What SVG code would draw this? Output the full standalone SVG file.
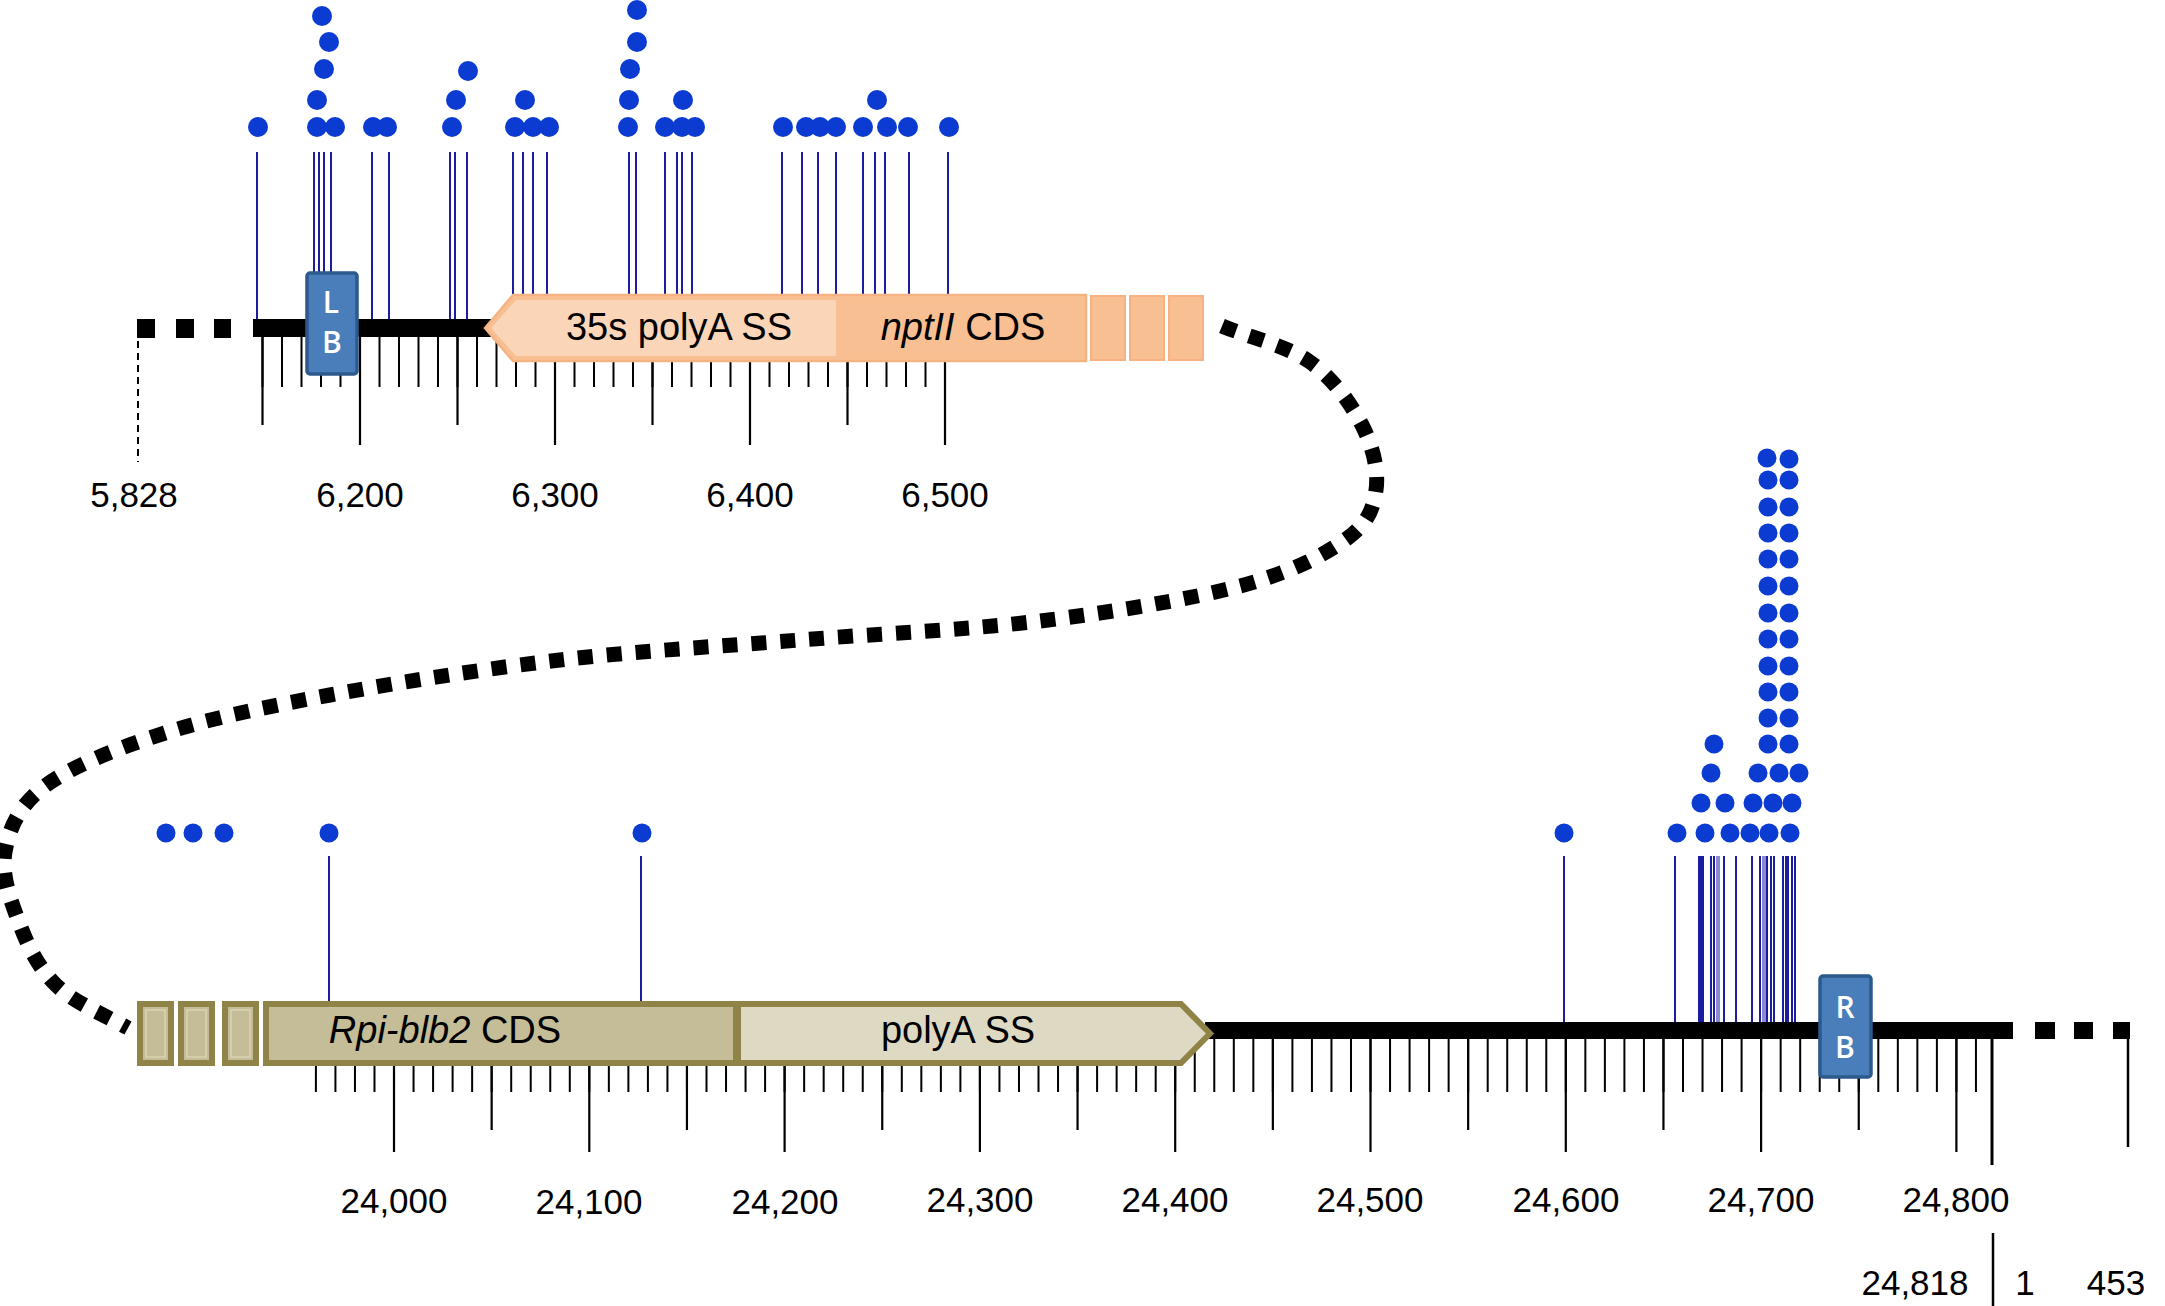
<svg xmlns="http://www.w3.org/2000/svg" width="2165" height="1306" viewBox="0 0 2165 1306">
<style>
.lbl{font-family:"Liberation Sans",Arial,sans-serif;font-size:35px;fill:#000;text-anchor:middle}
.feat{font-family:"Liberation Sans",Arial,sans-serif;font-size:38px;fill:#000;text-anchor:middle}
.bl{font-family:"Open Sans","Liberation Sans",sans-serif;font-size:30px;font-weight:600;fill:#fff;text-anchor:middle}
.tick{stroke:#000;stroke-width:2.2;fill:none}
.minor-top{stroke:#000;stroke-width:59;stroke-dasharray:2 17.5;fill:none}
.minor-bot{stroke:#000;stroke-width:62;stroke-dasharray:2 17.53;fill:none}
.stem{stroke:#1c1ca0;stroke-width:2;fill:none}
.stemL{stroke:#8c8ad2;stroke-width:2;fill:none}
.dot{fill:#0b3bd0}
.bb{fill:#4a7ebb;stroke:#2c5a8c;stroke-width:3.5}
.ol{fill:#c4bd97;stroke:#8f8348;stroke-width:6}
.olin{fill:none;stroke:#dad4b5;stroke-width:1.5}
.or{fill:#f8bf92;stroke:#f5b384;stroke-width:2}
</style>

<!-- connectors -->
<g id="connectors">
<path d="M1222,326 C1251,338 1286.7,345.5 1310,362 C1333.3,378.5 1351,403.7 1362,425 C1373,446.3 1378.8,470.8 1376,490 C1373.2,509.2 1367.7,524 1345,540 C1322.3,556 1290.8,572.5 1240,586 C1189.2,599.5 1113.3,612 1040,621 C966.7,630 880,633.5 800,640 C720,646.5 638.3,650.8 560,660 C481.7,669.2 395.8,682.8 330,695 C264.2,707.2 212.5,717.8 165,733 C117.5,748.2 71.7,766.2 45,786 C18.3,805.8 9.2,828.8 5,852 C0.8,875.2 11.5,902.8 20,925 C28.5,947.2 38.5,967.8 56,985 C73.5,1002.2 102,1013.7 128,1028" fill="none" stroke="#000" stroke-width="15" stroke-dasharray="15 14"/>
</g>

<!-- top track -->
<g id="top-backbone">
<rect x="137" y="319" width="18" height="19" fill="#000"/>
<rect x="176" y="319" width="18" height="19" fill="#000"/>
<rect x="214" y="319" width="17" height="19" fill="#000"/>
<line x1="138" y1="341" x2="138" y2="462" stroke="#000" stroke-width="2" stroke-dasharray="7 5"/>
</g>

<g id="top-ruler">
<path class="minor-top" d="M261.5,357.5 H947"/>
<path class="tick" d="M262.5,328V425 M457.5,328V425 M652.5,328V425 M847.5,328V425 M360,328V445 M555,328V445 M750,328V445 M945,328V445"/>
</g>

<g id="top-stems">
<path class="stem" d="M257,152V328 M314,152V273 M319,152V273 M324,152V273 M331,152V273 M372,152V328 M389,152V328 M450,152V328 M455,152V328 M467,152V328 M513,152V296 M523,152V296 M533,152V296 M547,152V296 M629,152V296 M636,152V296 M665,152V296 M677,152V296 M682,152V296 M692,152V296 M782,152V296 M802,152V296 M818,152V296 M836,152V296 M863,152V296 M875,152V296 M885,152V296 M909,152V296 M948,152V296"/>
</g>

<g id="top-line">
<rect x="253" y="319" width="240" height="18" fill="#000"/>
</g>

<g id="top-dots">
<circle class="dot" cx="258" cy="127" r="10"/>
<circle class="dot" cx="317" cy="127" r="10"/>
<circle class="dot" cx="335" cy="127" r="10"/>
<circle class="dot" cx="373" cy="127" r="10"/>
<circle class="dot" cx="387" cy="127" r="10"/>
<circle class="dot" cx="452" cy="127" r="10"/>
<circle class="dot" cx="515" cy="127" r="10"/>
<circle class="dot" cx="533" cy="127" r="10"/>
<circle class="dot" cx="549" cy="127" r="10"/>
<circle class="dot" cx="628" cy="127" r="10"/>
<circle class="dot" cx="665" cy="127" r="10"/>
<circle class="dot" cx="682" cy="127" r="10"/>
<circle class="dot" cx="695" cy="127" r="10"/>
<circle class="dot" cx="783" cy="127" r="10"/>
<circle class="dot" cx="806" cy="127" r="10"/>
<circle class="dot" cx="820" cy="127" r="10"/>
<circle class="dot" cx="836" cy="127" r="10"/>
<circle class="dot" cx="863" cy="127" r="10"/>
<circle class="dot" cx="887" cy="127" r="10"/>
<circle class="dot" cx="908" cy="127" r="10"/>
<circle class="dot" cx="949" cy="127" r="10"/>
<circle class="dot" cx="317" cy="100" r="10"/>
<circle class="dot" cx="456" cy="100" r="10"/>
<circle class="dot" cx="525" cy="100" r="10"/>
<circle class="dot" cx="629" cy="100" r="10"/>
<circle class="dot" cx="683" cy="100" r="10"/>
<circle class="dot" cx="877" cy="100" r="10"/>
<circle class="dot" cx="324" cy="69" r="10"/>
<circle class="dot" cx="468" cy="71" r="10"/>
<circle class="dot" cx="630" cy="69" r="10"/>
<circle class="dot" cx="329" cy="42" r="10"/>
<circle class="dot" cx="637" cy="42" r="10"/>
<circle class="dot" cx="322" cy="16" r="10"/>
<circle class="dot" cx="637" cy="10" r="10"/>
</g>

<g id="node-LB">
<rect class="bb" x="307" y="273" width="50" height="101" rx="3"/>
<text class="bl" x="331" y="313">L</text>
<text class="bl" x="332" y="353">B</text>
</g>

<g id="node-35s-polyA-nptII">
<polygon points="485,328 513,295 1086,295 1086,361 513,361" fill="#f8bf92" stroke="#f5b384" stroke-width="2.5"/>
<polygon points="491,328 516,300 836,300 836,356 516,356" fill="#fbd5b7"/>
<text class="feat" x="679" y="340">35s polyA SS</text>
<text class="feat" x="963" y="340"><tspan font-style="italic">nptII</tspan> CDS</text>
</g>

<g id="node-top-small-boxes">
<rect class="or" x="1091" y="296" width="34" height="64"/>
<rect class="or" x="1130" y="296" width="34" height="64"/>
<rect class="or" x="1169" y="296" width="34" height="64"/>
</g>

<g id="top-labels">
<text class="lbl" x="134" y="507">5,828</text>
<text class="lbl" x="360" y="507">6,200</text>
<text class="lbl" x="555" y="507">6,300</text>
<text class="lbl" x="750" y="507">6,400</text>
<text class="lbl" x="945" y="507">6,500</text>
</g>

<!-- bottom track -->
<g id="bottom-ruler">
<path class="minor-bot" d="M314.9,1061 H1977"/>
<path class="tick" d="M491.65,1030V1130 M686.95,1030V1130 M882.25,1030V1130 M1077.55,1030V1130 M1272.85,1030V1130 M1468.15,1030V1130 M1663.45,1030V1130 M1858.75,1030V1130 M394,1030V1152 M589.3,1030V1152 M784.6,1030V1152 M979.9,1030V1152 M1175.2,1030V1152 M1370.5,1030V1152 M1565.8,1030V1152 M1761.1,1030V1152 M1956.4,1030V1152"/>
<path class="tick" style="stroke-width:3" d="M1992,1030V1165"/>
<path class="tick" style="stroke-width:2.5" d="M2128,1030V1147"/>
</g>

<g id="bottom-stems">
<path class="stem" d="M329,856V1002 M641,856V1002 M1564,856V1030 M1675,856V1030 M1699,856V1030 M1701,856V1030 M1703,856V1030 M1711,856V1030 M1714,856V1030 M1724,856V1030 M1736,856V1030 M1752,856V1030 M1760,856V1030 M1767,856V1030 M1771,856V1030 M1774,856V1030 M1783,856V1030 M1786,856V1030 M1788,856V1030 M1792,856V1030 M1795,856V1030"/>
<path class="stemL" d="M1717,856V1030 M1719,856V1030 M1763,856V1030 M1765,856V1030"/>
</g>

<g id="bottom-line">
<rect x="1205" y="1022" width="808" height="17" fill="#000"/>
<rect x="2035" y="1022" width="20" height="17" fill="#000"/>
<rect x="2074" y="1022" width="19" height="17" fill="#000"/>
<rect x="2113" y="1022" width="17" height="17" fill="#000"/>
</g>

<g id="bottom-dots">
<circle class="dot" cx="166" cy="833" r="9.5"/>
<circle class="dot" cx="193" cy="833" r="9.5"/>
<circle class="dot" cx="224" cy="833" r="9.5"/>
<circle class="dot" cx="329" cy="833" r="9.5"/>
<circle class="dot" cx="642" cy="833" r="9.5"/>
<circle class="dot" cx="1564" cy="833" r="9.5"/>
<circle class="dot" cx="1677" cy="833" r="9.5"/>
<circle class="dot" cx="1705" cy="833" r="9.5"/>
<circle class="dot" cx="1730" cy="833" r="9.5"/>
<circle class="dot" cx="1750" cy="833" r="9.5"/>
<circle class="dot" cx="1769" cy="833" r="9.5"/>
<circle class="dot" cx="1790" cy="833" r="9.5"/>
<circle class="dot" cx="1701" cy="803" r="9.5"/>
<circle class="dot" cx="1725" cy="803" r="9.5"/>
<circle class="dot" cx="1753" cy="803" r="9.5"/>
<circle class="dot" cx="1773" cy="803" r="9.5"/>
<circle class="dot" cx="1792" cy="803" r="9.5"/>
<circle class="dot" cx="1711" cy="773" r="9.5"/>
<circle class="dot" cx="1758" cy="773" r="9.5"/>
<circle class="dot" cx="1779" cy="773" r="9.5"/>
<circle class="dot" cx="1799" cy="773" r="9.5"/>
<circle class="dot" cx="1714" cy="744" r="9.5"/>
<circle class="dot" cx="1768" cy="744" r="9.5"/>
<circle class="dot" cx="1789" cy="744" r="9.5"/>
<circle class="dot" cx="1768" cy="718" r="9.5"/>
<circle class="dot" cx="1789" cy="718" r="9.5"/>
<circle class="dot" cx="1768" cy="692" r="9.5"/>
<circle class="dot" cx="1789" cy="692" r="9.5"/>
<circle class="dot" cx="1768" cy="666" r="9.5"/>
<circle class="dot" cx="1789" cy="666" r="9.5"/>
<circle class="dot" cx="1768" cy="639" r="9.5"/>
<circle class="dot" cx="1789" cy="639" r="9.5"/>
<circle class="dot" cx="1768" cy="613" r="9.5"/>
<circle class="dot" cx="1789" cy="613" r="9.5"/>
<circle class="dot" cx="1768" cy="586" r="9.5"/>
<circle class="dot" cx="1789" cy="586" r="9.5"/>
<circle class="dot" cx="1768" cy="559" r="9.5"/>
<circle class="dot" cx="1789" cy="559" r="9.5"/>
<circle class="dot" cx="1768" cy="533" r="9.5"/>
<circle class="dot" cx="1789" cy="533" r="9.5"/>
<circle class="dot" cx="1768" cy="507" r="9.5"/>
<circle class="dot" cx="1789" cy="507" r="9.5"/>
<circle class="dot" cx="1768" cy="480" r="9.5"/>
<circle class="dot" cx="1789" cy="480" r="9.5"/>
<circle class="dot" cx="1767" cy="458" r="9.5"/>
<circle class="dot" cx="1789" cy="459" r="9.5"/>
</g>

<g id="node-bottom-small-boxes">
<rect class="ol" x="140" y="1004" width="31" height="59"/>
<rect class="olin" x="146" y="1010" width="19" height="47"/>
<rect class="ol" x="181" y="1004" width="31" height="59"/>
<rect class="olin" x="187" y="1010" width="19" height="47"/>
<rect class="ol" x="225" y="1004" width="31" height="59"/>
<rect class="olin" x="231" y="1010" width="19" height="47"/>
</g>

<g id="node-Rpi-blb2">
<rect class="ol" x="266" y="1004" width="470" height="59"/>
<text class="feat" x="445" y="1043"><tspan font-style="italic">Rpi-blb2</tspan> CDS</text>
</g>

<g id="node-polyA">
<polygon points="738,1004 1181,1004 1210,1033.5 1181,1063 738,1063" fill="#ddd9c3" stroke="#8f8348" stroke-width="6"/>
<text class="feat" x="958" y="1043">polyA SS</text>
</g>

<g id="node-RB">
<rect class="bb" x="1820" y="976" width="51" height="101" rx="3"/>
<text class="bl" x="1845" y="1018">R</text>
<text class="bl" x="1845" y="1058">B</text>
</g>

<g id="bottom-labels">
<text class="lbl" x="394" y="1213">24,000</text>
<text class="lbl" x="589" y="1214">24,100</text>
<text class="lbl" x="785" y="1214">24,200</text>
<text class="lbl" x="980" y="1212">24,300</text>
<text class="lbl" x="1175" y="1212">24,400</text>
<text class="lbl" x="1370" y="1212">24,500</text>
<text class="lbl" x="1566" y="1212">24,600</text>
<text class="lbl" x="1761" y="1212">24,700</text>
<text class="lbl" x="1956" y="1212">24,800</text>
<text class="lbl" x="1915" y="1295">24,818</text>
<line x1="1993" y1="1233" x2="1993" y2="1306" stroke="#000" stroke-width="2.5"/>
<text class="lbl" x="2025" y="1295">1</text>
<text class="lbl" x="2116" y="1295">453</text>
</g>
</svg>
